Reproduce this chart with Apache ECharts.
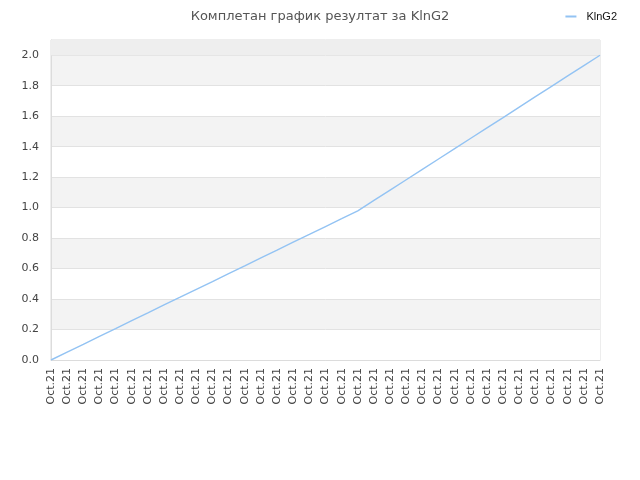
<!DOCTYPE html>
<html>
<head>
<meta charset="utf-8">
<script src="https://cdn.jsdelivr.net/npm/echarts@6/dist/echarts.min.js"></script>
<style>html,body{margin:0;padding:0;background:#fff}#c{width:640px;height:480px}</style>
</head>
<body>
<div id="c"></div>
<script>
const categories = Array.from({length: 35}, () => 'Oct.21');
const seriesName = 'KlnG2';
const values = [0, 0.052, 0.103, 0.155, 0.206, 0.258, 0.309, 0.361, 0.412, 0.464, 0.515, 0.567, 0.618, 0.670, 0.721, 0.773, 0.824, 0.876, 0.927, 0.979, 1.047, 1.115, 1.183, 1.251, 1.319, 1.387, 1.455, 1.523, 1.591, 1.660, 1.728, 1.796, 1.864, 1.932, 2.0];
const yTicks = {min: 0, max: 2.1, interval: 0.2};
const titleText = 'Комплетан график резултат за KlnG2';

const chart = echarts.init(document.getElementById('c'));
chart.setOption({
  animation: false,
  backgroundColor: '#fff',
  title: {
    text: titleText, left: 'center', top: 5,
    textStyle: {fontFamily: 'DejaVu Sans', fontSize: 13, fontWeight: 'normal', color: '#555'}
  },
  legend: {
    right: 18, top: 6, itemWidth: 11, itemHeight: 2, icon: 'rect', itemGap: 5,
    textStyle: {fontFamily: 'Liberation Sans', fontSize: 11, color: '#111', padding: [0, 0, 0, 5]},
    data: [seriesName]
  },
  grid: {left: 51, right: 40, top: 40, bottom: 120, show: true, borderColor: '#dcdcdc', borderWidth: 1, backgroundColor: 'transparent'},
  xAxis: {
    type: 'category', data: categories, boundaryGap: false,
    axisLine: {lineStyle: {color: '#dcdcdc'}},
    axisTick: {show: false},
    axisLabel: {rotate: 90, interval: 0, fontFamily: 'DejaVu Sans', fontSize: 11, color: '#444', margin: 8},
    splitLine: {show: false}
  },
  yAxis: {
    type: 'value', min: yTicks.min, max: yTicks.max, interval: yTicks.interval,
    axisLine: {show: true, lineStyle: {color: '#dcdcdc'}},
    axisTick: {show: false},
    axisLabel: {showMaxLabel: false, fontFamily: 'DejaVu Sans', fontSize: 11, color: '#444', margin: 12,
      formatter: v => v.toFixed(1)},
    splitLine: {lineStyle: {color: '#e2e2e2'}},
    splitArea: {show: true, areaStyle: {color: ['#ffffff', '#f3f3f3']}}
  },
  series: [{
    name: seriesName, type: 'line', data: values, symbol: 'none',
    lineStyle: {color: '#93c3f3', width: 1.4},
    itemStyle: {color: '#93c3f3'},
    markArea: {silent: true, itemStyle: {color: '#eeeeee'}, data: [[{yAxis: 2.0}, {yAxis: 2.1}]]}
  }]
});
</script>
</body>
</html>
